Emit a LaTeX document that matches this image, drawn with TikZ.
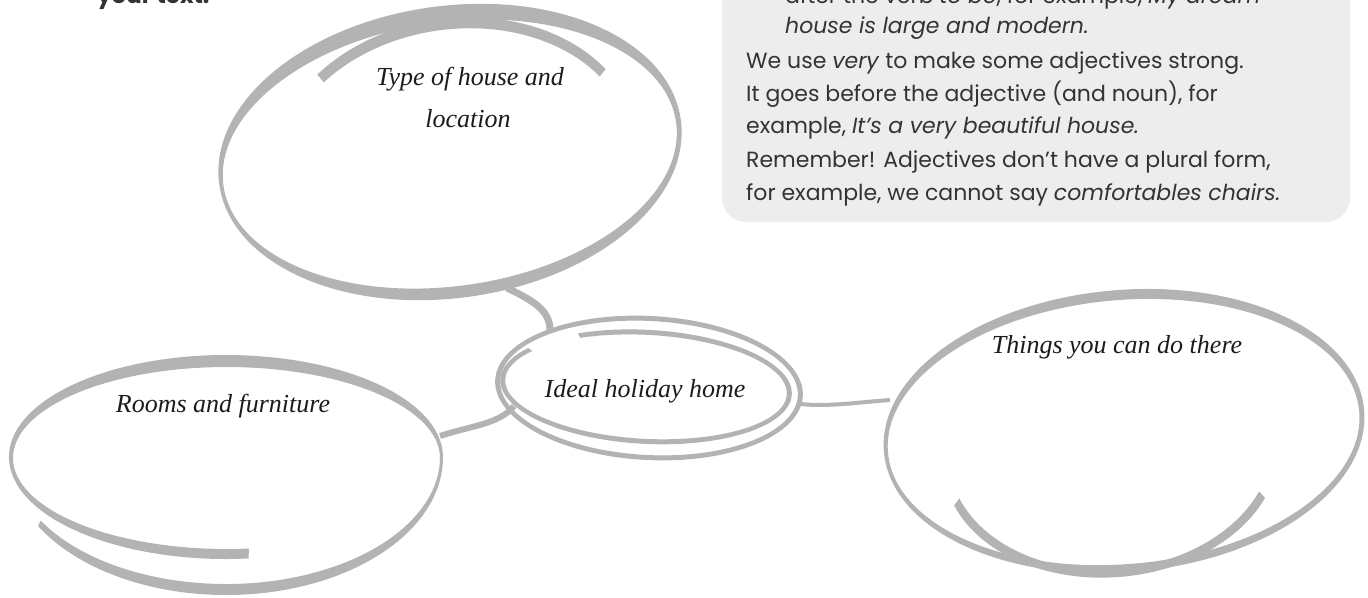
\documentclass[tikz,border=0pt]{standalone}
\usepackage{fontspec}
\newfontfamily\boxfont{Poppins}
\newfontfamily\handfont{Liberation Serif}
\usetikzlibrary{calc}
\definecolor{brushgray}{HTML}{B3B3B3}
\definecolor{panelgray}{HTML}{EDEDED}
\definecolor{inkdark}{HTML}{1E1B1C}
\definecolor{textdark}{HTML}{333333}
% band between two ellipse arcs: #1,#2 start/end parameter angle; #3,#4 radii of outer edge (centred at origin);
% #5,#6 centre of inner edge; #7,#8 radii of inner edge
\newcommand\brushband[8]{%
  \fill[brushgray] (#1:#3 and #4) arc[start angle=#1, end angle=#2, x radius=#3, y radius=#4]
    -- ([shift={(#5,#6)}]#2:#7 and #8) arc[start angle=#2, end angle=#1, x radius=#7, y radius=#8] -- cycle;}
\newcommand\brushring[6]{%
  \fill[brushgray, even odd rule] (0,0) ellipse[x radius=#1, y radius=#2] (#3,#4) ellipse[x radius=#5, y radius=#6];}
\begin{document}
\begin{tikzpicture}[x=1pt,y=-1pt,
  conn/.style={draw=brushgray, line cap=butt},
  label/.style={font=\handfont\itshape\fontsize{26}{30}\selectfont, text=inkdark, inner sep=0pt, anchor=base},
  panel/.style={font=\boxfont\fontsize{22}{26}\selectfont, text=textdark, inner sep=0pt, anchor=base west}]
\useasboundingbox (0,0) rectangle (1368,597);
\begin{scope}
\clip (0,0) rectangle (1368,597);
\fill[white] (0,0) rectangle (1368,597);
% heading remnant
\node[panel, font=\boxfont\bfseries\fontsize{23}{26}\selectfont] (yourtext) at (97,4) {your text.};
% grey panel
\fill[panelgray, rounded corners=24] (722,-60) rectangle (1350,222);
\node[panel] (p0) at (785,3) {after the verb \textit{to be}, for example, \textit{My dream}};
\node[panel] (p1) at (785,33) {\textit{house is large and modern.}};
\node[panel] (p2) at (746,68) {We use \textit{very} to make some adjectives strong.};
\node[panel] (p3) at (746,101) {It goes before the adjective (and noun), for};
\node[panel] (p4) at (746,133) {example, \textit{It’s a very beautiful house.}};
\node[panel] (p5) at (746,167) {Remember! Adjectives don’t have a plural form,};
\node[panel] (p6) at (746,200) {for example, we cannot say \textit{comfortables chairs.}};
% top bubble
\begin{scope}[shift={(450,152)}, rotate=8]
  \brushring{233}{146}{-0.5}{2}{228.5}{132}
  \begin{scope}[shift={(4.8,8)}]
    \brushband{227}{331}{184}{141}{0}{2}{176}{132}
  \end{scope}
\end{scope}
% centre bubble
\begin{scope}[shift={(649,388)}, rotate=-3]
  \brushring{154}{72}{0}{0}{149}{67}
  \begin{scope}[shift={(-3,-1)}]
    \brushband{241}{575}{146}{57}{0}{0}{141}{52}
  \end{scope}
\end{scope}
% left bubble
\begin{scope}[shift={(226,457)}]
  \brushband{84}{360}{217}{102}{0.5}{1}{213.5}{91}
  \brushband{0}{150}{217}{138}{0}{0}{214}{127}
\end{scope}
% right bubble
\begin{scope}[shift={(1124,431)}, rotate=5]
  \brushring{241}{141}{-0.5}{1}{236.5}{132}
  \begin{scope}[shift={(-15,24)}]
    \brushband{27}{163}{168}{121}{0}{-6}{162}{119}
  \end{scope}
\end{scope}
% connectors
\coordinate (tcA) at (507,288);
\coordinate (tcB) at (550,330);
\draw[conn, line width=7] (tcA) .. controls (532,300) and (550,310) .. (tcB);
\coordinate (lcA) at (440,436);
\coordinate (lcB) at (514,406);
\draw[conn, line width=6] (lcA) .. controls (470,426) and (500,424) .. (lcB);
\coordinate (crA) at (800,404);
\coordinate (crB) at (890,400);
\draw[conn, line width=4] (crA) .. controls (830,407) and (860,402) .. (crB);
% labels
\node[label] (type1) at (470,85) {Type of house and};
\node[label] (type2) at (468,127) {location};
\node[label] (home) at (645,397) {Ideal holiday home};
\node[label] (rooms) at (223,412) {Rooms and furniture};
\node[label] (things) at (1117,353) {Things you can do there};
\end{scope}
\end{tikzpicture}
\end{document}
